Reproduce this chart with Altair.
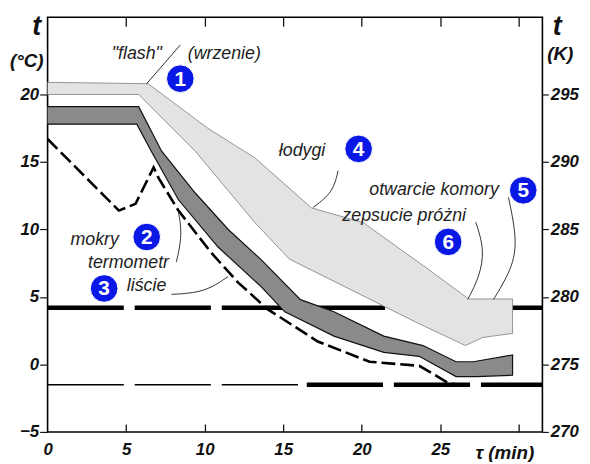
import altair as alt
import pandas as pd

FONT = "Liberation Sans"

# ---- data (time in min, temperature in deg C) ----
stem_upper_t = [0, 6.4, 10.2, 13.2, 16.8, 20.1, 24.3, 26.8, 29.6]
stem_upper_T = [20.9, 20.8, 17.5, 15.3, 11.6, 10.5, 7.0, 4.85, 4.85]
stem_lower_t = [0, 5.8, 9.4, 13.2, 15.4, 23.5, 26.6, 27.7, 29.6]
stem_lower_T = [20.0, 20.0, 15.8, 10.5, 7.8, 3.1, 1.4, 2.0, 2.3]

leaf_upper_t = [0, 5.8, 7.26, 9.4, 11.5, 13.56, 16.1, 18.23, 21.4, 23.9, 26.0, 27.1, 29.6]
leaf_upper_T = [19.1, 19.1, 15.8, 12.7, 10.0, 7.8, 4.8, 3.9, 2.1, 1.4, 0.2, 0.2, 0.7]
leaf_lower_t = [0, 5.68, 6.6, 8.33, 10.85, 13.56, 15.1, 18.23, 21.4, 23.66, 26.0, 27.3, 29.6]
leaf_lower_T = [17.8, 17.8, 15.8, 12.2, 8.7, 5.8, 3.9, 2.1, 0.9, 0.6, -0.9, -0.9, -0.8]

wet_t = [0, 4.54, 5.6, 6.75, 7.07, 8.33, 10.4, 12.1, 14.0, 17.2, 20.5, 23.66, 25.55, 26.6]
wet_T = [16.7, 11.4, 11.9, 14.6, 13.8, 11.4, 8.3, 6.1, 4.1, 1.7, 0.2, -0.1, -1.4, -1.55]

upper_level = 4.2
lower_level = -1.5
t_start, t_switch, t_end = 0, 16.5, 31.5

x_ticks = [0, 5, 10, 15, 20, 25, 30]
y_ticks = [-5, 0, 5, 10, 15, 20]
kelvin_offset = 275

# annotation texts (t, T)
labels_text = ['"flash"', "(wrzenie)", "łodygi", "otwarcie komory", "zepsucie próżni",
               "mokry", "termometr", "liście"]
labels_t = [5.68, 11.25, 16.2, 24.6, 22.7, 3.0, 5.15, 6.3]
labels_T = [23.0, 23.0, 15.8, 12.9, 11.0, 9.25, 7.5, 5.8]

badge_num = ["1", "2", "3", "4", "5", "6"]
badge_t = [8.45, 6.31, 3.6, 19.8, 30.28, 25.5]
badge_T = [21.17, 9.44, 5.63, 15.97, 12.9, 9.08]

leaders = {
    "flash": ([6.31, 8.45], [20.8, 23.67]),
    "lodygi": ([18.49, 18.17, 16.91], [14.35, 12.74, 11.64]),
    "mokry": ([8.33, 8.58, 8.2], [11.3, 9.59, 7.6]),
    "liscie": ([7.89, 10.03, 11.48], [5.19, 5.34, 6.51]),
    "prozni": ([27.26, 27.82, 27.5, 26.75], [10.54, 8.49, 6.51, 4.82]),
    "komory": ([29.34, 29.84, 29.72, 28.39], [12.38, 9.59, 7.39, 4.82]),
}


def polygon(ut, uT, lt, lT):
    rows = [{"t": a, "T": b} for a, b in zip(ut, uT)]
    rows += [{"t": a, "T": b} for a, b in zip(reversed(lt), reversed(lT))]
    for i, r in enumerate(rows):
        r["o"] = i
    return pd.DataFrame(rows)


stem_df = polygon(stem_upper_t, stem_upper_T, stem_lower_t, stem_lower_T)
leaf_df = polygon(leaf_upper_t, leaf_upper_T, leaf_lower_t, leaf_lower_T)
wet_df = pd.DataFrame({"t": wet_t, "T": wet_T, "o": range(len(wet_t))})

lead_rows = []
for k, (ts, Ts) in leaders.items():
    for i, (a, b) in enumerate(zip(ts, Ts)):
        lead_rows.append({"g": k, "t": a, "T": b, "o": i})
lead_df = pd.DataFrame(lead_rows)

text_df = pd.DataFrame({"label": labels_text, "t": labels_t, "T": labels_T})
badge_df = pd.DataFrame({"n": badge_num, "t": badge_t, "T": badge_T})

W, H = 500, 419
xs = alt.Scale(domain=[0, 31.5], nice=False, zero=False)
ys = alt.Scale(domain=[-5, 25.72], nice=False, zero=False)

lab = dict(labelFont=FONT, labelFontSize=17, labelFontWeight="bold",
           labelFontStyle="italic", labelColor="#111", grid=False, domain=False,
           title=None)

X0 = alt.X("t:Q", scale=xs, axis=None)
Y0 = alt.Y("T:Q", scale=ys, axis=None)

# horizontal dashed reference lines
thick_df = pd.DataFrame({"T": [upper_level, lower_level], "t0": [t_start, t_switch], "t1": [t_end, t_end]})
thin_df = pd.DataFrame({"T": [lower_level], "t0": [t_start], "t1": [t_switch]})

thick = alt.Chart(thick_df).mark_rule(strokeWidth=4.5, strokeDash=[77, 11], color="black").encode(
    x=alt.X("t0:Q", scale=xs, axis=None), x2="t1:Q", y=alt.Y("T:Q", scale=ys, axis=None))
thin = alt.Chart(thin_df).mark_rule(strokeWidth=1.6, strokeDash=[77, 11], color="black").encode(
    x=alt.X("t0:Q", scale=xs, axis=None), x2="t1:Q", y=alt.Y("T:Q", scale=ys, axis=None))

stem = alt.Chart(stem_df).mark_line(fill="#e3e3e3", stroke="#8a8a8a", strokeWidth=0.9).encode(
    x=alt.X("t:Q", scale=xs, axis=alt.Axis(orient="bottom", values=x_ticks[:-1], ticks=False,
                                            labelPadding=10, labelFlush=False, **lab)),
    y=alt.Y("T:Q", scale=ys, axis=alt.Axis(orient="left", values=y_ticks, tickSize=8,
                                            tickColor="#111", tickWidth=1.2, labelPadding=1, **lab)),
    order="o:Q")

leaf = alt.Chart(leaf_df).mark_line(fill="#8a8a8a", stroke="#111", strokeWidth=1.2).encode(
    x=alt.X("t:Q", scale=xs, axis=alt.Axis(orient="top", offset=-H, values=x_ticks[1:], labels=False,
                                            tickSize=8, tickColor="#111", tickWidth=1.3,
                                            grid=False, domain=False, title=None)),
    y=alt.Y("T:Q", scale=ys, axis=alt.Axis(orient="right", values=y_ticks, tickSize=6,
                                            tickColor="#111", tickWidth=1.2, labelPadding=2,
                                            labelExpr=f"datum.value + {kelvin_offset}", **lab)),
    order="o:Q")

wet = alt.Chart(wet_df).mark_line(stroke="black", strokeWidth=2.6, strokeDash=[14, 5]).encode(
    x=alt.X("t:Q", scale=xs, axis=alt.Axis(orient="bottom", offset=-H, values=x_ticks[1:], labels=False,
                                            tickSize=9, tickColor="#111", tickWidth=1.3,
                                            grid=False, domain=False, title=None)),
    y=Y0, order="o:Q")

lead = alt.Chart(lead_df).mark_line(stroke="#333", strokeWidth=1, interpolate="basis").encode(
    x=X0, y=Y0, detail="g:N", order="o:Q")

texts = alt.Chart(text_df).mark_text(font=FONT, fontSize=18, fontStyle="italic", color="#222").encode(
    x=X0, y=Y0, text="label:N")

badges = alt.Chart(badge_df).mark_circle(size=780, color="#0a18e6", opacity=1,
                                         stroke="white", strokeWidth=1).encode(x=X0, y=Y0)
badge_txt = alt.Chart(badge_df).mark_text(font=FONT, fontSize=21, fontWeight="bold", color="white",
                                          dy=1).encode(x=X0, y=Y0, text="n:N")

title_df = pd.DataFrame({"s": ["t", "(°C)", "t", "(K)", "τ (min)"],
                         "px": [-11, -21, 515, 518, 462],
                         "py": [10, 44, 10, 37, 440],
                         "fs": [27, 19, 27, 19, 19]})
titles = []
for _, r in title_df.iterrows():
    titles.append(alt.Chart(pd.DataFrame({"s": [r.s]})).mark_text(
        font=FONT, fontSize=float(r.fs), fontWeight="bold", fontStyle="italic", color="#111").encode(
        x=alt.value(float(r.px)), y=alt.value(float(r.py)), text="s:N"))

chart = alt.layer(thick, thin, stem, leaf, wet, lead, texts, badges, badge_txt, *titles).resolve_axis(
    x="independent", y="independent").properties(
    width=W, height=H, autosize=alt.AutoSizeParams(type="none"),
    padding={"left": 40, "top": 7, "right": 40, "bottom": 28},
    background="white").configure_view(stroke="black", strokeWidth=1.6)

chart.save("out.html", embed_options={"renderer": "svg", "actions": False})
